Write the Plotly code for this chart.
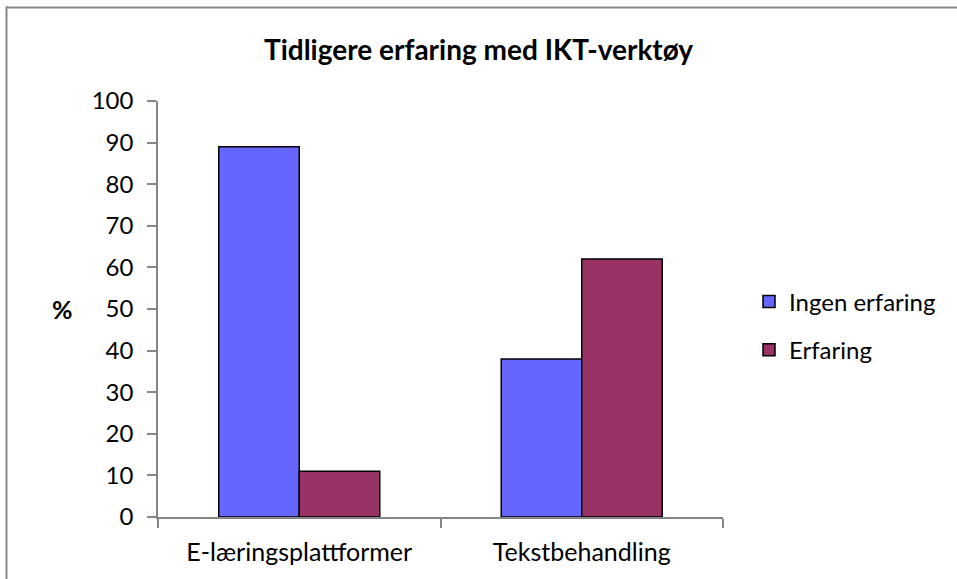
import plotly.graph_objects as go

categories = ["E-læringsplattformer", "Tekstbehandling"]
series_names = ["Ingen erfaring", "Erfaring"]
ingen_erfaring = [89, 38]
erfaring = [11, 62]
y_ticks = list(range(0, 101, 10))

colors = ["#6666FF", "#993366"]
FONT = "Lato"

W, H = 957, 579
ML, MR, MT, MB = 158, 234, 101, 62
PW, PH = W - ML - MR, H - MT - MB

def px_x(x):
    return (x - ML) / PW

def px_y(y):
    return 1 - (y - MT) / PH

fig = go.Figure()
for name, vals, col in zip(series_names, [ingen_erfaring, erfaring], colors):
    fig.add_trace(go.Bar(
        x=categories, y=vals, name=name, legendgroup=name,
        marker=dict(color=col, line=dict(color="#000000", width=1.5)),
    ))

border = dict(color="#878787", width=2)
fig.update_layout(
    width=W, height=H,
    margin=dict(l=ML, r=MR, t=MT, b=MB),
    paper_bgcolor="white", plot_bgcolor="white",
    barmode="group", bargap=0.43, bargroupgap=0,
    font=dict(family=FONT, size=24, color="#000000"),
    title=dict(text="<b>Tidligere erfaring med IKT-verktøy</b>",
               x=px_x(478.5), xref="paper", xanchor="center",
               y=1 - 50 / H, yanchor="middle",
               font=dict(family=FONT, size=28, color="#000000")),
    showlegend=True,
    legend=dict(x=px_x(749), xanchor="left", y=px_y(326), yanchor="middle",
                font=dict(family=FONT, size=24), tracegroupgap=14,
                traceorder="grouped", bgcolor="rgba(0,0,0,0)"),
    xaxis=dict(showline=True, linecolor="#868686", linewidth=1.5,
               ticks="outside", tickson="boundaries", ticklen=9,
               tickcolor="#868686", tickwidth=1.5, showgrid=False,
               ticklabelstandoff=12,
               tickfont=dict(family=FONT, size=25)),
    yaxis=dict(range=[0, 100], tickvals=y_ticks, showline=True,
               linecolor="#868686", linewidth=1.5, ticks="outside",
               ticklen=9, tickcolor="#868686", tickwidth=1.5,
               showgrid=False, zeroline=False, ticklabelstandoff=9,
               tickfont=dict(family=FONT, size=24)),
    annotations=[dict(text="<b>%</b>", x=px_x(62), y=px_y(309),
                      xref="paper", yref="paper", showarrow=False,
                      xanchor="center", yanchor="middle",
                      font=dict(family=FONT, size=25, color="#000000"))],
    shapes=[
        dict(type="line", xref="paper", yref="paper",
             x0=px_x(6), x1=px_x(1000), y0=px_y(7.5), y1=px_y(7.5),
             line=border, layer="above"),
        dict(type="line", xref="paper", yref="paper",
             x0=px_x(6.5), x1=px_x(6.5), y0=px_y(640), y1=px_y(6.5),
             line=border, layer="above"),
    ],
)

fig.write_html("out.html", config={"displayModeBar": False},
               post_script="document.body.style.margin='0px';")
